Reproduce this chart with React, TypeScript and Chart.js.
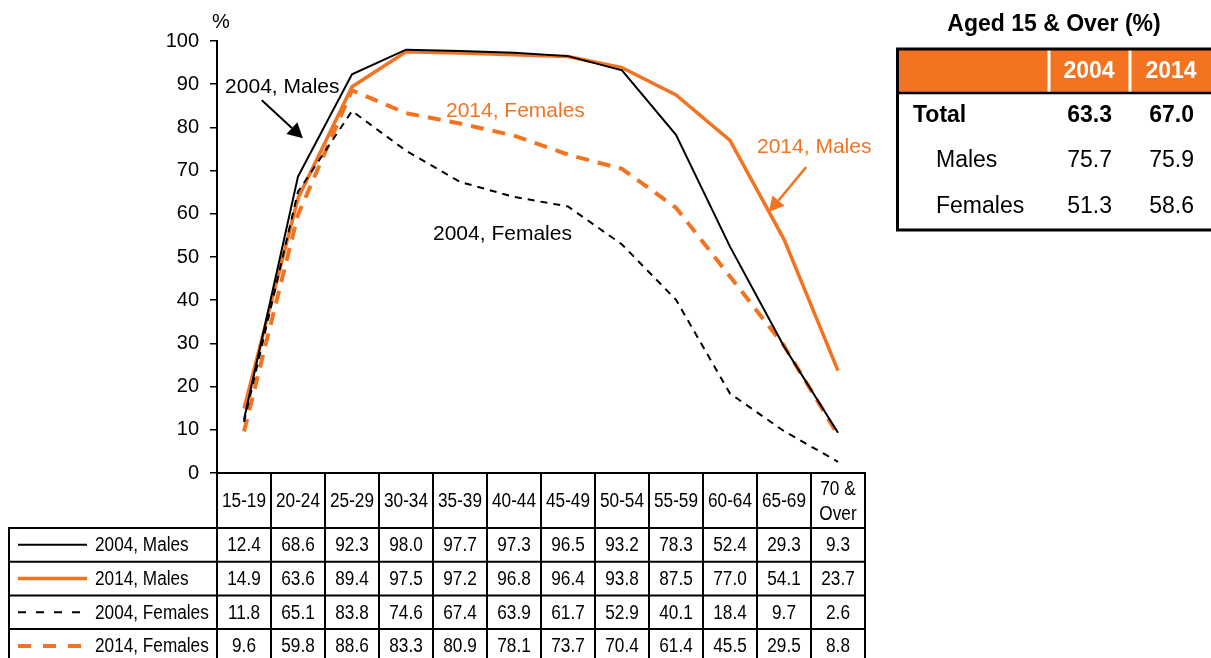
import React, { useEffect, useRef } from 'react';
import { Chart, registerables } from 'chart.js';

Chart.register(...registerables);

// ---------- data ----------
const categories = ['15-19', '20-24', '25-29', '30-34', '35-39', '40-44', '45-49', '50-54', '55-59', '60-64', '65-69', '70 &\nOver'];
const males2004 = [12.4, 68.6, 92.3, 98.0, 97.7, 97.3, 96.5, 93.2, 78.3, 52.4, 29.3, 9.3];
const males2014 = [14.9, 63.6, 89.4, 97.5, 97.2, 96.8, 96.4, 93.8, 87.5, 77.0, 54.1, 23.7];
const females2004 = [11.8, 65.1, 83.8, 74.6, 67.4, 63.9, 61.7, 52.9, 40.1, 18.4, 9.7, 2.6];
const females2014 = [9.6, 59.8, 88.6, 83.3, 80.9, 78.1, 73.7, 70.4, 61.4, 45.5, 29.5, 8.8];
const seriesNames = ['2004, Males', '2014, Males', '2004, Females', '2014, Females'];
const yMin = 0;
const yMax = 100;
const yStep = 10;
const summaryTitle = 'Aged 15 & Over (%)';
const summaryYears = ['2004', '2014'];
const summaryRows = ['Total', 'Males', 'Females'];
const summary2004 = [63.3, 75.7, 51.3];
const summary2014 = [67.0, 75.9, 58.6];

// ---------- styles ----------
const ORANGE = '#F37321';
const BLACK = '#000000';
const FONT = '"Liberation Sans", Arial, Helvetica, sans-serif';

type Style = { color: string; width: number; dash: number[]; legendDash: number[] };
const styles: Style[] = [
  { color: BLACK, width: 2, dash: [], legendDash: [] },
  { color: ORANGE, width: 3.5, dash: [], legendDash: [] },
  { color: BLACK, width: 2, dash: [7, 6], legendDash: [8, 10] },
  { color: ORANGE, width: 4, dash: [13, 9], legendDash: [13, 12] },
];
const seriesValues = [males2004, males2014, females2004, females2014];

function text(
  ctx: CanvasRenderingContext2D,
  s: string,
  x: number,
  y: number,
  size: number,
  o: { bold?: boolean; color?: string; align?: CanvasTextAlign; sx?: number } = {}
) {
  ctx.save();
  ctx.font = `${o.bold ? 'bold ' : ''}${size}px ${FONT}`;
  ctx.fillStyle = o.color || BLACK;
  ctx.textAlign = o.align || 'left';
  ctx.textBaseline = 'middle';
  ctx.translate(x, y);
  ctx.scale(o.sx || 1, 1);
  ctx.fillText(s, 0, 0);
  ctx.restore();
}

function line(ctx: CanvasRenderingContext2D, x1: number, y1: number, x2: number, y2: number) {
  ctx.beginPath();
  ctx.moveTo(x1, y1);
  ctx.lineTo(x2, y2);
  ctx.stroke();
}

function arrow(ctx: CanvasRenderingContext2D, x1: number, y1: number, x2: number, y2: number, color: string, w: number) {
  const ang = Math.atan2(y2 - y1, x2 - x1);
  const hl = 15;
  const hw = 8;
  const bx = x2 - hl * Math.cos(ang);
  const by = y2 - hl * Math.sin(ang);
  ctx.save();
  ctx.strokeStyle = color;
  ctx.fillStyle = color;
  ctx.lineWidth = w;
  ctx.setLineDash([]);
  line(ctx, x1, y1, bx, by);
  ctx.beginPath();
  ctx.moveTo(x2, y2);
  ctx.lineTo(bx + hw * Math.sin(ang), by - hw * Math.cos(ang));
  ctx.lineTo(bx - hw * Math.sin(ang), by + hw * Math.cos(ang));
  ctx.closePath();
  ctx.fill();
  ctx.restore();
}

const tablePlugin = {
  id: 'tables',
  afterDraw(chart: any) {
    const ctx: CanvasRenderingContext2D = chart.ctx;
    const xs = chart.scales.x;
    const ys = chart.scales.y;
    const area = chart.chartArea;
    const catW = xs.getPixelForValue(1) - xs.getPixelForValue(0);
    const px = (idx: number) => xs.getPixelForValue(0) + idx * catW;
    const py = (v: number) => ys.getPixelForValue(v);

    ctx.save();
    // "%" label
    text(ctx, '%', area.left + 4, area.top - 19, 20, { align: 'center' });

    // annotations
    text(ctx, seriesNames[0], px(-0.35), py(89.4), 21);
    arrow(ctx, px(0.33), py(86.3), px(1.09), py(77.5), BLACK, 2);
    text(ctx, seriesNames[3], px(3.74), py(83.8), 21, { color: ORANGE });
    text(ctx, seriesNames[2], px(3.5), py(55.3), 21);
    text(ctx, seriesNames[1], px(9.5), py(75.5), 21, { color: ORANGE });
    arrow(ctx, px(10.41), py(70.8), px(9.72), py(60.4), ORANGE, 2.5);

    // data table
    const headTop = area.bottom;
    const headBot = headTop + 55;
    const rowH = 33.7;
    const tableBot = headBot + rowH * 4;
    const tableLeft = 9;
    ctx.strokeStyle = BLACK;
    ctx.lineWidth = 2;
    ctx.setLineDash([]);
    for (let i = 0; i <= categories.length; i++) {
      const x = area.left + i * catW;
      line(ctx, x, headTop, x, tableBot);
    }
    line(ctx, tableLeft, headBot, tableLeft, tableBot);
    for (let r = 0; r <= 4; r++) {
      line(ctx, tableLeft - 1, headBot + r * rowH, area.right + 1, headBot + r * rowH);
    }
    categories.forEach((c, i) => {
      const cx = xs.getPixelForValue(i);
      const parts = c.split('\n');
      const lh = 25;
      parts.forEach((p, k) => {
        text(ctx, p, cx, (headTop + headBot) / 2 + 1 + (k - (parts.length - 1) / 2) * lh, 20, { align: 'center', sx: 0.86 });
      });
    });
    seriesValues.forEach((vals, r) => {
      const cy = headBot + r * rowH + rowH / 2;
      const st = styles[r];
      ctx.save();
      ctx.strokeStyle = st.color;
      ctx.lineWidth = st.width;
      ctx.setLineDash(st.legendDash);
      line(ctx, 18, cy, 87, cy);
      ctx.restore();
      text(ctx, seriesNames[r], 95, cy + 1, 20, { sx: 0.86 });
      vals.forEach((v, i) => {
        text(ctx, v.toFixed(1), xs.getPixelForValue(i), cy + 1, 20, { align: 'center', sx: 0.86 });
      });
    });

    // summary table
    text(ctx, summaryTitle, 1054, 25, 23, { bold: true, align: 'center' });
    ctx.fillStyle = ORANGE;
    ctx.fillRect(898, 50, 320, 42);
    ctx.fillStyle = '#FFFFFF';
    ctx.fillRect(1047.5, 50, 3, 42);
    ctx.fillRect(1128.5, 50, 3, 42);
    ctx.strokeStyle = BLACK;
    ctx.lineWidth = 3;
    ctx.strokeRect(897.5, 49, 330, 181);
    ctx.lineWidth = 2.7;
    line(ctx, 898, 93, 1215, 93);
    text(ctx, summaryYears[0], 1089, 72, 23, { bold: true, align: 'center', color: '#FFFFFF' });
    text(ctx, summaryYears[1], 1171, 72, 23, { bold: true, align: 'center', color: '#FFFFFF' });
    const rowY = [116, 161, 207];
    summaryRows.forEach((name, r) => {
      const bold = r === 0;
      text(ctx, name, r === 0 ? 913 : 936, rowY[r], 23, { bold });
      text(ctx, summary2004[r].toFixed(1), 1112, rowY[r], 23, { bold, align: 'right' });
      text(ctx, summary2014[r].toFixed(1), 1194, rowY[r], 23, { bold, align: 'right' });
    });
    ctx.restore();
  },
};

export default function App() {
  const ref = useRef<HTMLCanvasElement>(null);
  useEffect(() => {
    const order = [0, 2, 1, 3];
    const chart = new Chart(ref.current as HTMLCanvasElement, {
      type: 'line',
      data: {
        labels: categories,
        datasets: order.map((k) => ({
          label: seriesNames[k],
          data: seriesValues[k],
          borderColor: styles[k].color,
          borderWidth: styles[k].width,
          borderDash: styles[k].dash,
          pointRadius: 0,
          tension: 0,
          fill: false,
        })),
      },
      options: {
        responsive: false,
        animation: false,
        devicePixelRatio: 1,
        layout: { padding: { top: 41, right: 346, bottom: 0, left: 0 } },
        plugins: { legend: { display: false }, tooltip: { enabled: false } },
        scales: {
          x: {
            type: 'category',
            offset: true,
            grid: { display: false, drawTicks: false },
            ticks: { display: false },
            border: { display: true, color: BLACK, width: 2 },
            afterFit: (s: any) => {
              s.height = 185;
            },
          },
          y: {
            min: yMin,
            max: yMax,
            ticks: { stepSize: yStep, color: BLACK, font: { size: 20, family: FONT }, padding: 11 },
            grid: { drawOnChartArea: false, drawTicks: true, tickLength: 7, color: BLACK, lineWidth: 1.5 },
            border: { display: true, color: BLACK, width: 2 },
            afterFit: (s: any) => {
              s.width = 217;
            },
          },
        },
      } as any,
      plugins: [tablePlugin],
    });
    return () => chart.destroy();
  }, []);
  return (
    <div style={{ position: 'fixed', left: 0, top: 0, width: 1211, height: 658, background: '#fff' }}>
      <canvas ref={ref} width={1211} height={658} style={{ display: 'block', width: 1211, height: 658 }} />
    </div>
  );
}
